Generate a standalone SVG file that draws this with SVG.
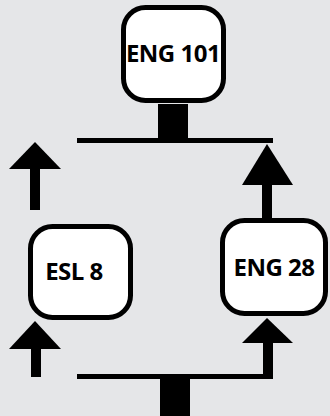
<svg xmlns="http://www.w3.org/2000/svg" width="330" height="416" viewBox="0 0 330 416">
<style>
.box{fill:#ffffff;stroke:#000000;stroke-width:5}
.lbl{font-family:"Open Sans","Noto Sans","DejaVu Sans",sans-serif;font-weight:bold;font-size:24px;letter-spacing:-0.5px;fill:#000000;text-anchor:middle}
.ln{stroke:#000000;stroke-width:5;fill:none}
.bk{fill:#000000}
</style>
<rect x="0" y="0" width="330" height="416" fill="#e5e6e8"/>
<g id="connectors">
<rect class="bk" x="158" y="104" width="30" height="39"/>
<line class="ln" x1="77" y1="140.5" x2="273" y2="140.5"/>
<rect class="bk" x="30" y="168" width="10" height="42"/>
<polygon class="bk" points="35,142 9,169 61,169"/>
<rect class="bk" x="262" y="184" width="10" height="37"/>
<polygon class="bk" points="267,144 242,185 293,185"/>
<rect class="bk" x="31" y="348" width="10" height="29"/>
<polygon class="bk" points="35,321 9,349 61,349"/>
<rect class="bk" x="263" y="342" width="10" height="35"/>
<polygon class="bk" points="267,318 242,343 293,343"/>
<line class="ln" x1="77" y1="376.5" x2="273" y2="376.5"/>
<rect class="bk" x="160" y="377" width="30" height="39"/>
</g>
<g id="eng101">
<rect class="box" x="123.5" y="7.5" width="100" height="93" rx="22"/>
<text class="lbl" x="173" y="62">ENG 101</text>
</g>
<g id="esl8">
<rect class="box" x="30.5" y="226.5" width="100" height="91" rx="22"/>
<text class="lbl" x="74" y="280">ESL 8</text>
</g>
<g id="eng28">
<rect class="box" x="222.5" y="220.5" width="103" height="93" rx="22"/>
<text class="lbl" x="274" y="276">ENG 28</text>
</g>
</svg>
